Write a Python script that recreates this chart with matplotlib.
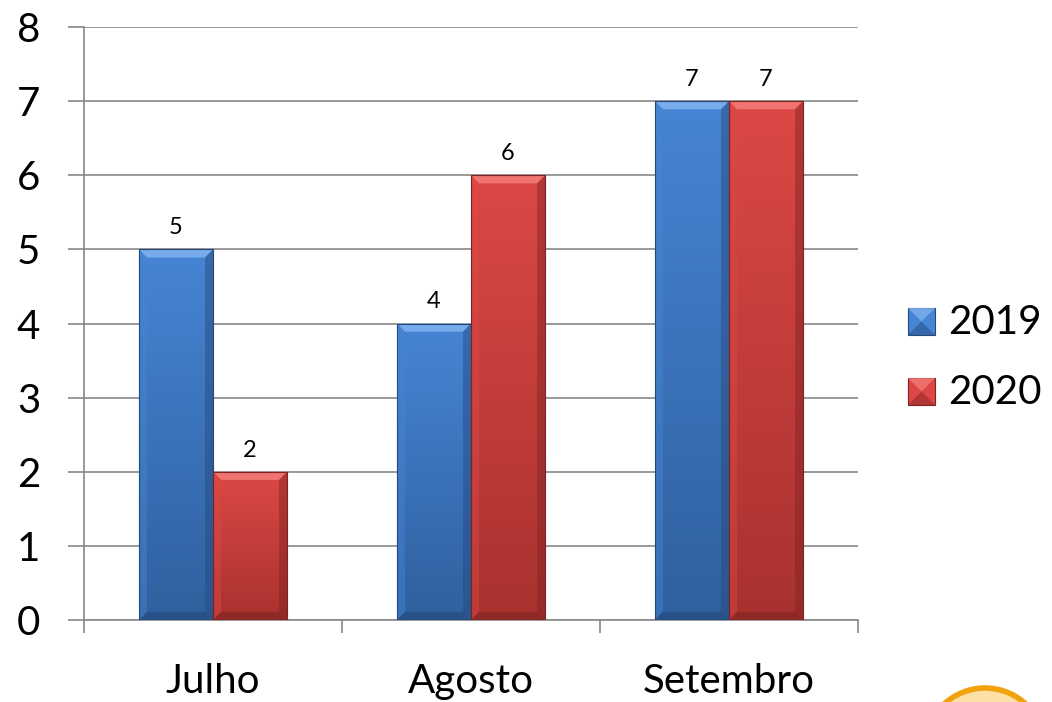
import numpy as np
import matplotlib
matplotlib.use("Agg")
import matplotlib.pyplot as plt
from matplotlib.patches import Polygon, Ellipse
from matplotlib.colors import LinearSegmentedColormap

plt.rcParams['font.family'] = ['Lato', 'DejaVu Sans']

categories = ["Julho", "Agosto", "Setembro"]
series_names = ["2019", "2020"]
values_2019 = [5, 4, 7]
values_2020 = [2, 6, 7]
y_ticks = [0, 1, 2, 3, 4, 5, 6, 7, 8]

palette = {
    "2019": {"top": "#4685D4", "bottom": "#30609F", "light": "#7DB0EE", "dark": "#24487A"},
    "2020": {"top": "#DC4845", "bottom": "#A8322F", "light": "#F27A76", "dark": "#7E2321"},
}

fig = plt.figure(figsize=(10.52, 7.02), dpi=100)
ax = fig.add_axes([84 / 1052, 82 / 702, 774 / 1052, 593 / 702])

centers = np.arange(len(categories)) + 0.5
bw = 0.287


def bevel_bar(ax, x0, h, colors):
    x1 = x0 + bw
    grad = LinearSegmentedColormap.from_list("g", [colors["bottom"], colors["top"]])
    bar = ax.bar(x0, h, width=bw, align="edge", color="none", edgecolor="none", zorder=3)[0]
    img = ax.imshow(np.linspace(0, 1, 256).reshape(-1, 1), cmap=grad, aspect="auto",
                    extent=(x0, x1, 0, h), origin="lower", zorder=3)
    img.set_clip_path(bar)
    dx = 0.031
    dy = 0.11
    faces = [
        ([(x0, h), (x1, h), (x1 - dx, h - dy), (x0 + dx, h - dy)], colors["light"], 0.9),
        ([(x0, 0), (x0, h), (x0 + dx, h - dy), (x0 + dx, dy)], colors["top"], 0.45),
        ([(x1, 0), (x1, h), (x1 - dx, h - dy), (x1 - dx, dy)], colors["dark"], 0.45),
        ([(x0, 0), (x1, 0), (x1 - dx, dy), (x0 + dx, dy)], colors["dark"], 0.6),
    ]
    for pts, c, a in faces:
        ax.add_patch(Polygon(pts, closed=True, facecolor=c, edgecolor="none", alpha=a, zorder=4))
    ax.add_patch(Polygon([(x0, 0), (x0, h), (x1, h), (x1, 0)], closed=True, facecolor="none",
                         edgecolor=colors["dark"], linewidth=0.8, zorder=5))


for vals, name, off in [(values_2019, "2019", -bw), (values_2020, "2020", 0.0)]:
    for c, v in zip(centers, vals):
        bevel_bar(ax, c + off, v, palette[name])
        ax.annotate(str(v), (c + off + bw / 2, v), xytext=(0, 15.5), textcoords="offset points",
                    ha="center", va="center", fontsize=17, color="black")

ax.set_xlim(0, len(categories))
ax.set_ylim(0, 8)
ax.set_yticks(y_ticks)
ax.set_yticklabels([str(t) for t in y_ticks], fontsize=29)
ax.set_xticks(np.arange(len(categories) + 1))
ax.set_xticklabels([])
ax.set_xticks(centers, minor=True)
ax.set_xticklabels(categories, minor=True, fontsize=29)
ax.tick_params(axis="x", which="minor", length=0, pad=31)
ax.tick_params(axis="x", which="major", length=9.5, width=1.2, color="#888888", direction="out")
ax.tick_params(axis="y", length=11.5, width=1.2, color="#888888", direction="out", pad=20)

ax.grid(axis="y", color="#888888", linewidth=1.2, zorder=0)
ax.set_axisbelow(True)
for s in ["top", "right"]:
    ax.spines[s].set_visible(False)
for s in ["left", "bottom"]:
    ax.spines[s].set_color("#888888")
    ax.spines[s].set_linewidth(1.2)

# legend with bevelled squares
legend_items = [("2019", 322), ("2020", 392)]
for name, ypix in legend_items:
    cols = palette[name]
    sx0, sx1 = 908 / 1052, 935 / 1052
    sy1 = (702 - (ypix - 14)) / 702
    sy0 = (702 - (ypix + 13)) / 702
    fig.patches.append(Polygon([(sx0, sy0), (sx0, sy1), (sx1, sy1), (sx1, sy0)], closed=True,
                               transform=fig.transFigure, facecolor=cols["top"],
                               edgecolor=cols["dark"], linewidth=0.8))
    mx, my = (sx0 + sx1) / 2, (sy0 + sy1) / 2
    fig.patches.append(Polygon([(sx0, sy1), (sx1, sy1), (mx, my)], closed=True,
                               transform=fig.transFigure, facecolor=cols["light"],
                               edgecolor="none", alpha=0.8))
    fig.patches.append(Polygon([(sx0, sy0), (sx1, sy0), (mx, my)], closed=True,
                               transform=fig.transFigure, facecolor=cols["bottom"],
                               edgecolor="none", alpha=0.8))
    fig.text(948 / 1052, (702 - ypix) / 702, name, fontsize=29, va="center", ha="left")

# partial round badge in the lower right corner
fig.patches.append(Ellipse((985 / 1052, (702 - 748) / 702), 120 / 1052, 120 / 702,
                           transform=fig.transFigure, facecolor="#FCE0A8",
                           edgecolor="#F2A20C", linewidth=4))

fig.savefig("out.png", dpi=100)
